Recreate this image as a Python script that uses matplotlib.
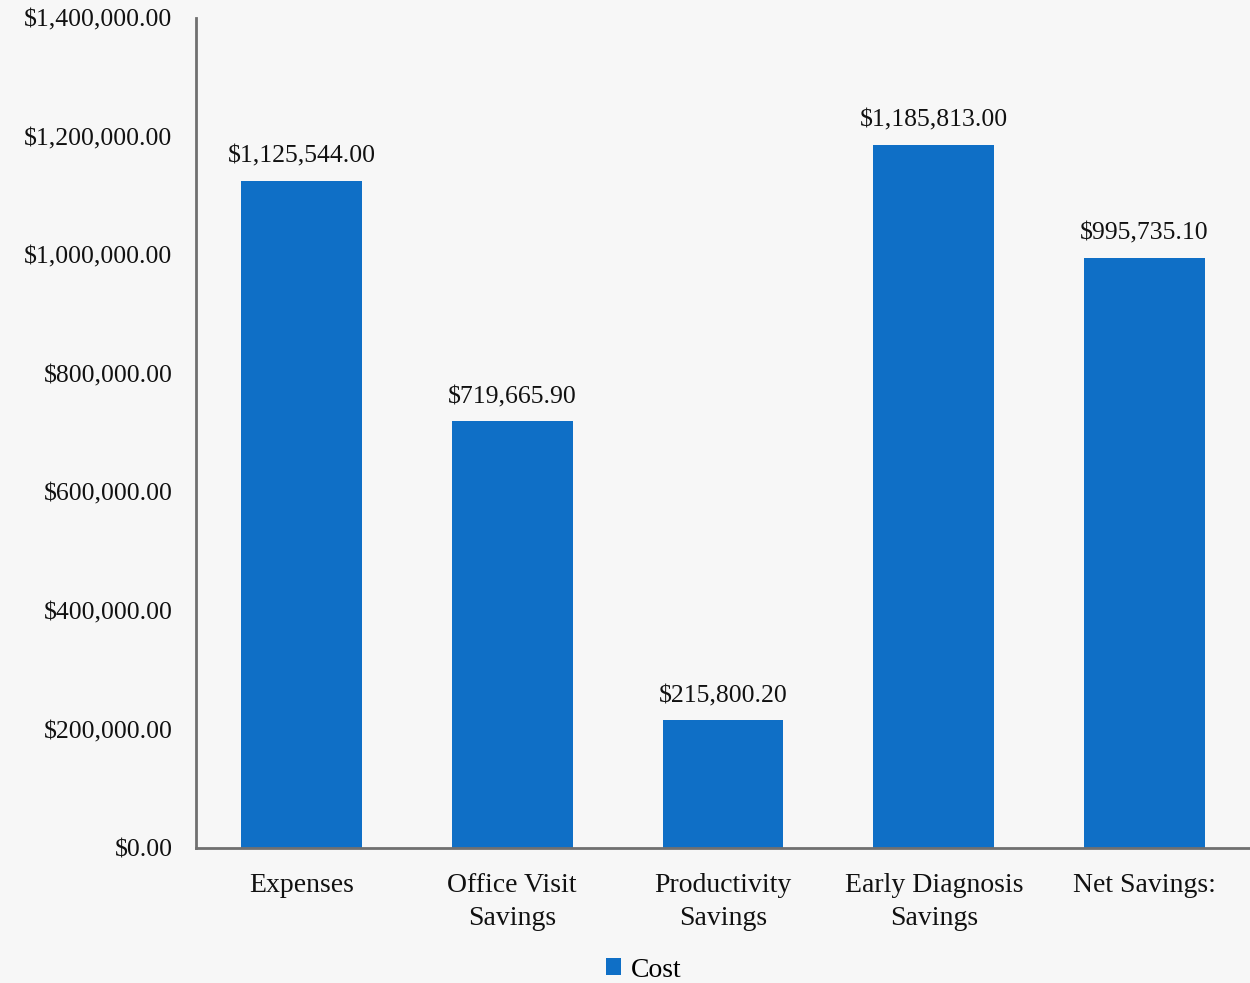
import matplotlib
matplotlib.use("Agg")
import matplotlib.pyplot as plt

# chart data
categories = ["Expenses", "Office Visit\nSavings", "Productivity\nSavings",
              "Early Diagnosis\nSavings", "Net Savings:"]
cost = [1125544.00, 719665.90, 215800.20, 1185813.00, 995735.10]
yticks = [0, 200000, 400000, 600000, 800000, 1000000, 1200000, 1400000]

blue = "#0f6fc6"
bg = "#f7f7f7"

plt.rcParams['font.family'] = ['Liberation Serif', 'DejaVu Serif']

fig = plt.figure(figsize=(12.5, 9.83), dpi=100, facecolor=bg)
ax = fig.add_axes([0.1568, 0.1373, 0.8432, 0.8444])
ax.set_facecolor(bg)

x = range(len(categories))
bars = ax.bar(x, cost, width=0.573, color=blue, label="Cost", zorder=2)

for xi, v in zip(x, cost):
    ax.text(xi, v + 22000, "${:,.2f}".format(v), ha="center", va="bottom",
            fontsize=18.5, color="#111111")

ax.set_xlim(-0.5, 4.5)
ax.set_ylim(0, 1400000)
ax.set_yticks(yticks)
ax.set_yticklabels(["${:,.2f}".format(t) for t in yticks], fontsize=18.5)
ax.set_xticks(list(x))
ax.set_xticklabels(categories, fontsize=20, linespacing=1.4)
ax.tick_params(axis="both", length=0, colors="#111111")
ax.tick_params(axis="y", pad=17)
ax.tick_params(axis="x", pad=18)

for s in ["top", "right"]:
    ax.spines[s].set_visible(False)
for s in ["left", "bottom"]:
    ax.spines[s].set_color("#707070")
    ax.spines[s].set_linewidth(2)

# legend sits on the bottom edge, kept just inside the figure
leg = fig.legend(loc="lower center", bbox_to_anchor=(0.515, -0.025), frameon=False,
                 fontsize=20, handlelength=0.55, handleheight=0.55, handletextpad=0.35)

fig.savefig("out.png", dpi=100, facecolor=bg)
